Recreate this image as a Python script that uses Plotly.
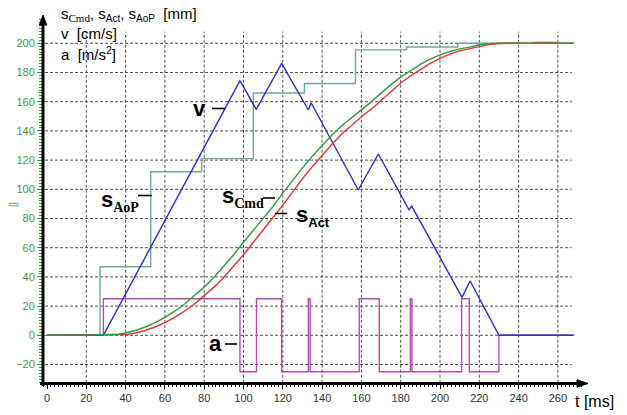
import plotly.graph_objects as go

# ---------------- data ----------------
# commanded acceleration a [m/s^2] (step profile)
a_t = [0, 28.7, 98.2, 106.6, 119.4, 133.0, 133.9, 158.9, 169.1, 184.9, 185.7, 211.0, 214.9, 230.0, 268.0]
a_val = [0, 25, -25, 25, -25, 25, -25, 25, -25, 25, -25, 25, -25, 0, 0]

# velocity v [cm/s] (corner points)
v_t = [0, 28.7, 98.2, 106.5, 119.4, 133.0, 134.4, 158.4, 168.6, 184.2, 185.6, 211.2, 215.3, 230.0, 268.0]
v_val = [0, 0, 174.4, 154.8, 186.3, 154.3, 159.3, 99.5, 124.2, 86.0, 88.5, 26.0, 37.2, 0, 0]

# position set by the AoP interpolator s_AoP [mm] (step profile)
aop_t = [0, 27.0, 52.8, 78.7, 105.0, 131.0, 157.0, 183.0, 209.0, 268.0]
aop_val = [0, 47.0, 112.0, 121.0, 166.0, 172.5, 195.5, 197.5, 200.0, 200.0]

# commanded position s_Cmd [mm]
cmd_t = [0, 28.7, 35, 40, 45, 50, 55, 60, 65, 70, 75, 80, 85, 90, 95, 100, 105, 110, 115,
         120, 125, 130, 135, 140, 145, 150, 155, 160, 165, 170, 175, 180, 185, 190, 195,
         200, 205, 210, 215, 220, 225, 230, 268]
cmd_val = [0, 0, 0.5, 1.6, 3.3, 5.7, 8.7, 12.3, 16.5, 21.4, 26.9, 33.0, 39.8, 47.2, 55.2,
           63.7, 71.9, 79.9, 88.3, 97.4, 106.4, 114.7, 122.6, 130.2, 137.2, 143.5, 149.2,
           154.4, 159.9, 165.9, 171.7, 176.8, 181.2, 185.5, 189.1, 192.1, 194.4, 196.2,
           197.4, 199.0, 199.8, 200.0, 200.0]

# actual position s_Act [mm]
act_t = [0, 33.7, 40, 45, 50, 55, 60, 65, 70, 75, 80, 85, 90, 95, 100, 105, 110, 115, 120,
         125, 130, 135, 140, 145, 150, 155, 160, 165, 170, 175, 180, 185, 190, 195, 200,
         205, 210, 215, 220, 225, 230, 235, 247, 248, 259, 260, 268]
act_val = [0, 0, 0.5, 1.6, 3.3, 5.7, 8.7, 12.3, 16.5, 21.4, 26.9, 33.0, 39.8, 47.2, 55.2,
           63.7, 71.9, 80.7, 89.2, 98.3, 107.3, 115.5, 123.4, 130.9, 137.9, 144.1, 149.7,
           154.9, 161.1, 167.1, 172.8, 177.7, 182.2, 186.3, 189.7, 192.6, 194.8, 196.5,
           197.7, 199.2, 199.9, 200.0, 200.0, 200.6, 200.6, 200.0, 200.0]

y_ticks = list(range(-20, 201, 20))
x_ticks = list(range(0, 261, 20))

# ---------------- geometry ----------------
W, H = 627, 415
PL, PR, PT, PB = 43, 585, 18, 383          # plot area in pixels
X_RANGE = [-2.036, 273.79]
Y_RANGE = [-32.67, 217.33]


def px(x):
    return (x - PL) / (PR - PL)


def py(y):
    return (PB - y) / (PB - PT)


C_AOP = "#6fa6a6"
C_A = "#b24db6"
C_V = "#2b2be0"
C_ACT = "#e83232"
C_CMD = "#36993a"
C_TICK = "#3c9c3c"
GRID = "#4d4d4d"

fig = go.Figure()
fig.add_trace(go.Scatter(x=aop_t, y=aop_val, mode="lines", line=dict(color=C_AOP, width=1.4, shape="hv"),
                         hoverinfo="skip", showlegend=False))
fig.add_trace(go.Scatter(x=a_t, y=a_val, mode="lines", line=dict(color=C_A, width=1.4, shape="hv"),
                         hoverinfo="skip", showlegend=False))
fig.add_trace(go.Scatter(x=v_t, y=v_val, mode="lines", line=dict(color=C_V, width=1.4),
                         hoverinfo="skip", showlegend=False))
fig.add_trace(go.Scatter(x=act_t, y=act_val, mode="lines", line=dict(color=C_ACT, width=1.4),
                         hoverinfo="skip", showlegend=False))
fig.add_trace(go.Scatter(x=cmd_t, y=cmd_val, mode="lines", line=dict(color=C_CMD, width=1.4),
                         hoverinfo="skip", showlegend=False))

shapes = []
# dashed grid
for yv in y_ticks:
    shapes.append(dict(type="line", xref="x", yref="y", x0=-1.0, x1=267.0, y0=yv, y1=yv,
                       line=dict(color=GRID, width=1, dash="3px,2px"), layer="below"))
for xv in x_ticks[1:]:
    shapes.append(dict(type="line", xref="x", yref="y", x0=xv, x1=xv, y0=-32.5, y1=208.0,
                       line=dict(color=GRID, width=1, dash="3px,2px"), layer="below"))
# blank area behind the unit block
shapes.append(dict(type="rect", xref="paper", yref="paper", x0=px(52), x1=px(213), y0=py(66), y1=py(0),
                   fillcolor="white", line=dict(width=0), layer="below"))
# axes with arrow heads
shapes.append(dict(type="line", xref="paper", yref="paper", x0=px(43), x1=px(43), y0=py(386), y1=py(22),
                   line=dict(color="black", width=3)))
shapes.append(dict(type="line", xref="paper", yref="paper", x0=px(40), x1=px(580), y0=py(383.5), y1=py(383.5),
                   line=dict(color="black", width=3)))
shapes.append(dict(type="path", xref="paper", yref="paper",
                   path=f"M {px(43)} {py(15)} L {px(39.3)} {py(25)} L {px(46.7)} {py(25)} Z",
                   fillcolor="black", line=dict(color="black", width=1)))
shapes.append(dict(type="path", xref="paper", yref="paper",
                   path=f"M {px(588)} {py(383.5)} L {px(577)} {py(379.8)} L {px(577)} {py(387.2)} Z",
                   fillcolor="black", line=dict(color="black", width=1)))
# label leader dashes
for x0, x1, y in [(212, 225, 108.5), (138, 152, 195.5), (263, 275, 198), (275, 287, 213.5), (225, 237, 344)]:
    shapes.append(dict(type="line", xref="paper", yref="paper", x0=px(x0), x1=px(x1), y0=py(y), y1=py(y),
                       line=dict(color="black", width=1.6)))

SANS = "Liberation Sans, Arial, sans-serif"


def ann(text, x, y, size, xanchor="left", yanchor="middle", family=SANS, color="black", angle=0):
    return dict(text=text, xref="paper", yref="paper", x=px(x), y=py(y), xanchor=xanchor, yanchor=yanchor,
                showarrow=False, textangle=angle, borderpad=0, font=dict(family=family, size=size, color=color))


def sub(txt, size, serif=False):
    fam = "font-family:Liberation Serif, Times New Roman, serif;" if serif else ""
    return '<sub><span style="' + fam + 'font-size:' + str(size) + 'px">' + txt + '</span></sub>'


annotations = [
    ann("s" + sub("Cmd", 11, True) + ", s" + sub("Act", 10) + ", s" + sub("AoP", 10) + "\u00a0 [mm]", 60, 15, 15),
    ann("v\u00a0 [cm/s]", 60, 33, 15),
    ann("a\u00a0 [m/s<sup>2</sup>]", 60, 53, 15),
    ann("<b>v</b>", 207, 108, 22, xanchor="right"),
    ann("<b>s" + sub("AoP", 14, True) + "</b>", 100, 201, 22),
    ann("<b>s" + sub("Cmd", 14, True) + "</b>", 221, 197, 22),
    ann("<b>s" + sub("Act", 13) + "</b>", 295, 216, 22),
    ann("<b>a</b>", 223, 343, 22, xanchor="right"),
    ann("t [ms]", 574, 401, 16),
    ann("[]", 13, 205, 9, xanchor="center", color=C_TICK, angle=-90),
]

fig.update_layout(
    width=W, height=H,
    margin=dict(l=PL, r=W - PR, t=PT, b=H - PB, pad=0),
    paper_bgcolor="white", plot_bgcolor="white",
    shapes=shapes, annotations=annotations,
    showlegend=False,
    xaxis=dict(range=X_RANGE, tickvals=x_ticks, ticks="outside", ticklen=5, tickwidth=1, tickcolor="black",
               showgrid=False, zeroline=False, showline=False,
               tickfont=dict(family="Liberation Sans Narrow, Arial Narrow, Liberation Sans", size=11, color="#333333"),
               minor=dict(dtick=2, tick0=0, ticks="outside", ticklen=3, tickcolor="black", showgrid=False)),
    yaxis=dict(range=Y_RANGE, tickvals=y_ticks, ticks="outside", ticklen=5, tickwidth=1, tickcolor=C_TICK,
               showgrid=False, zeroline=False, showline=False,
               tickfont=dict(family="Liberation Sans Narrow, Arial Narrow, Liberation Sans", size=11, color=C_TICK),
               minor=dict(dtick=2, tick0=0, ticks="outside", ticklen=3, tickcolor=C_TICK, showgrid=False)),
)

fig.write_html("out.html")
